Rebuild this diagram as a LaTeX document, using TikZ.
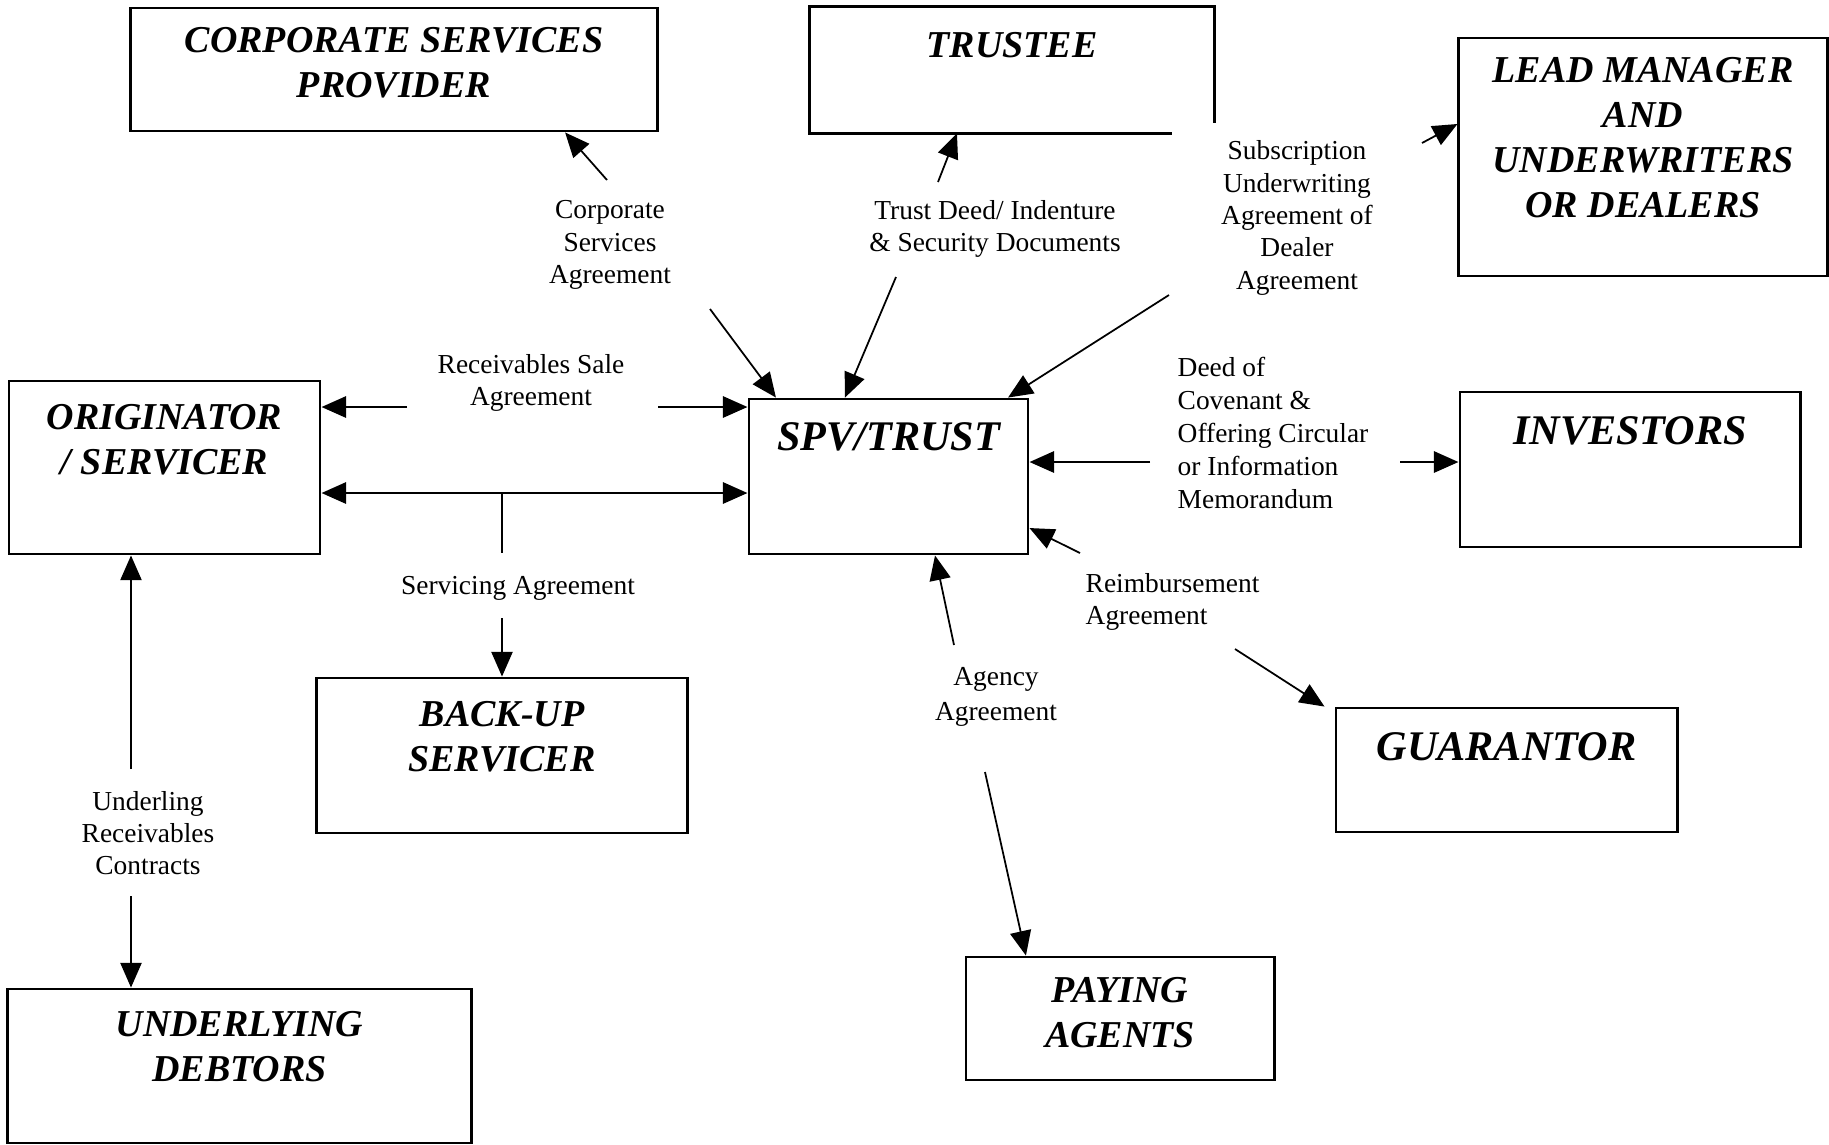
\documentclass[tikz,border=0pt]{standalone}
\usepackage{fontspec}
\setmainfont{Liberation Serif}
\usetikzlibrary{arrows.meta, positioning}

\tikzset{
  >={Triangle[length=7pt, width=6pt]},
  party/.style={draw, line width=0.8pt, inner sep=0pt},
  title/.style={font=\fontsize{10.8}{12.8}\selectfont\bfseries\itshape, align=center, inner sep=0pt},
  bigtitle/.style={title, font=\fontsize{12}{14}\selectfont\bfseries\itshape},
  deal/.style={font=\fontsize{7.8}{9.2}\selectfont, align=center, inner sep=0pt},
  wire/.style={line width=0.5pt},
  link/.style={wire, ->},
  hlink/.style={link, line width=0.8pt}
}

\begin{document}
\begin{tikzpicture}[x=0.01cm, y=-0.01cm]
    \path[use as bounding box, fill=white] (0,0) rectangle (1829,1144);

    % parties
    \node[party, minimum width=5.26cm, minimum height=1.23cm] (csp) at (394,69.5) {};
    \node[party, draw=none, minimum width=4.02cm, minimum height=1.24cm] (trustee) at (1012,70) {};
    \node[party, minimum width=3.68cm, minimum height=2.38cm] (lm) at (1643,157) {};
    \node[party, minimum width=3.11cm, minimum height=1.73cm] (orig) at (164.5,467.5) {};
    \node[party, minimum width=2.79cm, minimum height=1.55cm] (spv) at (888.5,476.5) {};
    \node[party, minimum width=3.40cm, minimum height=1.55cm] (inv) at (1630,469.5) {};
    \node[party, minimum width=3.41cm, minimum height=1.24cm] (guar) at (1506.5,770) {};
    \node[party, minimum width=3.70cm, minimum height=1.55cm] (backup) at (502,755.5) {};
    \node[party, minimum width=4.63cm, minimum height=1.54cm] (debtors) at (239.5,1066) {};
    \node[party, minimum width=3.08cm, minimum height=1.23cm] (paying) at (1120,1018.5) {};

    \draw[line width=0.8pt] ([xshift=-0.43cm]trustee.south east) -- (trustee.south west)
      -- (trustee.north west) -- (trustee.north east) -- ([yshift=0.1cm]trustee.south east);

    \node[title, below=0.20cm of csp.north] (cspname) {CORPORATE SERVICES\\PROVIDER};
    \node[title, below=0.25cm of trustee.north] (trusteename) {TRUSTEE};
    \node[title, below=0.20cm of lm.north] (lmname) {LEAD MANAGER\\AND\\UNDERWRITERS\\OR DEALERS};
    \node[title, below=0.24cm of orig.north] (origname) {ORIGINATOR\\/ SERVICER};
    \node[bigtitle, below=0.24cm of spv.north] (spvname) {SPV/TRUST};
    \node[bigtitle, below=0.25cm of inv.north] (invname) {INVESTORS};
    \node[bigtitle, below=0.25cm of guar.north] (guarname) {GUARANTOR};
    \node[title, below=0.24cm of backup.north] (backupname) {BACK-UP\\SERVICER};
    \node[title, below=0.23cm of debtors.north] (debtorsname) {UNDERLYING\\DEBTORS};
    \node[title, below=0.21cm of paying.north] (payingname) {PAYING\\AGENTS};

    % agreements
    \node[deal] (csa) at (610,245) {Corporate\\Services\\Agreement};
    \node[deal] (tdi) at (995,229) {Trust Deed/ Indenture\\\& Security Documents};
    \node[deal] (sua) at (1297,218) {Subscription\\Underwriting\\Agreement of\\Dealer\\Agreement};
    \node[deal] (rsa) at (531,383) {Receivables Sale\\Agreement};
    \node[deal] (sva) at (518,588) {Servicing Agreement};
    \node[deal, anchor=west, align=left, font=\fontsize{7.8}{9.4}\selectfont] (doc) at (1177,433)
      {Deed of\\Covenant \&\\Offering Circular\\or Information\\Memorandum};
    \node[deal, anchor=west, align=left] (rba) at (1085,602) {Reimbursement\\Agreement};
    \node[deal, font=\fontsize{7.8}{10}\selectfont] (aga) at (996,697) {Agency\\Agreement};
    \node[deal] (urc) at (148,833) {Underling\\Receivables\\Contracts};

    \coordinate (c1) at (607,180);
    \coordinate (c2) at (710,309);
    \coordinate (t1) at (938,182);
    \coordinate (t2) at (896,277);
    \coordinate (s1) at (1169,295);
    \coordinate (s2) at (1422,143);
    \coordinate (r1) at (407,407);
    \coordinate (r2) at (658,407);
    \coordinate (sv) at (502,493);
    \coordinate (sv1) at (502,553);
    \coordinate (sv2) at (502,618);
    \coordinate (d1) at (1150,462);
    \coordinate (d2) at (1400,462);
    \coordinate (m1) at (1080,553);
    \coordinate (m2) at (1235,649);
    \coordinate (g1) at (954,645);
    \coordinate (g2) at (985,772);
    \coordinate (u1) at (131,769);
    \coordinate (u2) at (131,896);

    % connectors
    \draw[link] (c1) -- ([xshift=1.71cm]csp.south);
    \draw[link] (c2) -- ([xshift=-1.125cm]spv.north);
    \draw[link] (t1) -- ([xshift=-0.55cm]trustee.south);
    \draw[link] (t2) -- ([xshift=-0.435cm]spv.north);
    \draw[link] (s1) -- ([xshift=1.195cm]spv.north);
    \draw[link] (s2) -- ([yshift=0.33cm]lm.west);
    \draw[hlink] (r1) -- (orig.east |- r1);
    \draw[hlink] (r2) -- (spv.west |- r2);
    \draw[hlink, <->] (orig.east |- sv) -- (spv.west |- sv);
    \draw[wire] (sv) -- (sv1);
    \draw[link] (sv2) -- (backup.north);
    \draw[hlink] (d1) -- (spv.east |- d1);
    \draw[hlink] (d2) -- (inv.west |- d2);
    \draw[link] (m1) -- ([yshift=-0.515cm]spv.east);
    \draw[link] (m2) -- ([xshift=-0.1cm]guar.north west);
    \draw[link] (g1) -- ([xshift=0.465cm]spv.south);
    \draw[link] (g2) -- ([xshift=-0.94cm]paying.north);
    \draw[link] (u1) -- (orig.south -| u1);
    \draw[link] (u2) -- (debtors.north -| u2);
\end{tikzpicture}
\end{document}
